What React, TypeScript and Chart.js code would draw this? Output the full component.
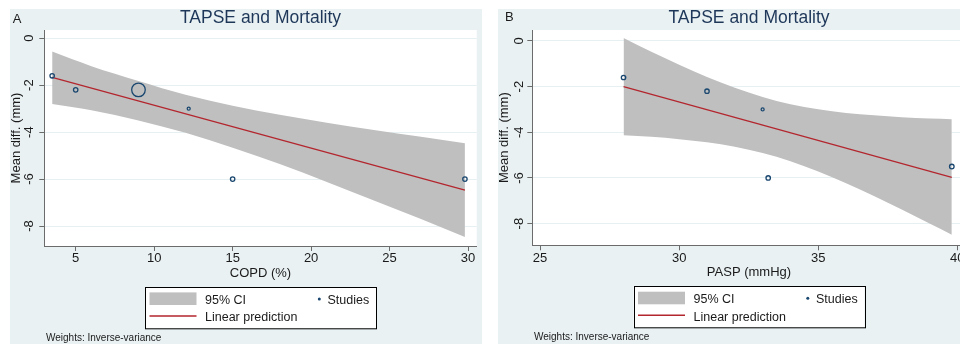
import React, { useEffect, useRef } from 'react';
import { Chart, registerables } from 'chart.js';
Chart.register(...registerables);

// ---------- Panel A: COPD (%) ----------
const copdStudyX = [3.5, 5, 9, 12.2, 15, 29.8];
const copdStudyY = [-1.6, -2.2, -2.2, -3.0, -6.0, -6.0];
const copdStudySize = [2.2, 2.2, 6.8, 1.5, 2.2, 2.2];
const copdFitX = [3.5, 29.8];
const copdFitY = [-1.67, -6.47];
const copdBandX = [3.5, 6, 9, 12, 15, 18, 21, 24, 27, 29.8];
const copdBandUpper = [-0.57, -1.19, -1.82, -2.41, -2.88, -3.26, -3.6, -3.91, -4.2, -4.47];
const copdBandLower = [-2.8, -3.07, -3.5, -4.03, -4.66, -5.36, -6.12, -6.91, -7.7, -8.47];
const copdXTicks = [5, 10, 15, 20, 25, 30];

// ---------- Panel B: PASP (mmHg) ----------
const paspStudyX = [28, 31, 33, 33.2, 39.8];
const paspStudyY = [-1.6, -2.2, -3.0, -6.0, -5.5];
const paspStudySize = [2.2, 2.2, 1.5, 2.2, 2.3];
const paspFitX = [28, 39.8];
const paspFitY = [-2.0, -5.97];
const paspBandX = [28, 29, 30, 31, 32, 33, 34, 35, 36, 37, 38, 39, 39.8];
const paspBandUpper = [0.13, -0.47, -1.04, -1.58, -2.05, -2.45, -2.77, -2.99, -3.15, -3.25, -3.34, -3.4, -3.43];
const paspBandLower = [-4.13, -4.2, -4.3, -4.44, -4.63, -4.91, -5.27, -5.72, -6.23, -6.79, -7.38, -8.0, -8.49];
const paspXTicks = [25, 30, 35, 40];

const yTicks = [0, -2, -4, -6, -8];

const chartTitle = 'TAPSE and Mortality';
const yTitle = 'Mean diff. (mm)';
const legendCI = '95% CI';
const legendFit = 'Linear prediction';
const legendStudies = 'Studies';
const noteText = 'Weights: Inverse-variance';

const FONT = '"Liberation Sans", Arial, Helvetica, sans-serif';
const BG = '#e9f1f3';
const GRID = '#e6eff1';
const AXIS = '#6b6b6b';
const BAND = '#bfbfbf';
const RED = '#b3262e';
const NAVY = '#1a476f';
const TITLE = '#1e3759';
const TEXT = '#1a1a1a';

type PanelCfg = {
  letter: string;
  xTitle: string;
  studyX: number[]; studyY: number[]; studySize: number[];
  fitX: number[]; fitY: number[];
  bandX: number[]; bandUpper: number[]; bandLower: number[];
  xTicks: number[];
  xMin: number; xMax: number; yMin: number; yMax: number;
  width: number; left: number;
  axisH: number;
  letterX: number; letterBase: number;
  yTickOff: number;
};

const panels: PanelCfg[] = [
  {
    letter: 'A', xTitle: 'COPD (%)',
    studyX: copdStudyX, studyY: copdStudyY, studySize: copdStudySize,
    fitX: copdFitX, fitY: copdFitY,
    bandX: copdBandX, bandUpper: copdBandUpper, bandLower: copdBandLower,
    xTicks: copdXTicks,
    xMin: 3.0, xMax: 30.55, yMin: -8.85, yMax: 0.35,
    width: 472, left: 10, axisH: 98,
    letterX: 2.7, letterBase: 14,
    yTickOff: 11,
  },
  {
    letter: 'B', xTitle: 'PASP (mmHg)',
    studyX: paspStudyX, studyY: paspStudyY, studySize: paspStudySize,
    fitX: paspFitX, fitY: paspFitY,
    bandX: paspBandX, bandUpper: paspBandUpper, bandLower: paspBandLower,
    xTicks: paspXTicks,
    xMin: 24.72, xMax: 40.3, yMin: -8.95, yMax: 0.48,
    width: 473, left: 498, axisH: 98.7,
    letterX: 7, letterBase: 12,
    yTickOff: 9,
  },
];

function decorPlugin(p: PanelCfg) {
  return {
    id: 'decor' + p.letter,
    beforeDraw(chart: any) {
      const { ctx, chartArea: a, width, height } = chart;
      ctx.save();
      ctx.fillStyle = BG;
      ctx.fillRect(0, 0, width, height);
      ctx.fillStyle = '#ffffff';
      ctx.fillRect(a.left, a.top, a.right - a.left, a.bottom - a.top);
      ctx.restore();
    },
    afterDraw(chart: any) {
      const { ctx, chartArea: a } = chart;
      const ys = chart.scales.y;
      const cx = (a.left + a.right) / 2;
      ctx.save();
      // panel letter
      ctx.fillStyle = TEXT;
      ctx.font = `13px ${FONT}`;
      ctx.textAlign = 'left';
      ctx.textBaseline = 'alphabetic';
      ctx.fillText(p.letter, p.letterX, p.letterBase);
      // title
      ctx.fillStyle = TITLE;
      ctx.font = `17.5px ${FONT}`;
      ctx.textAlign = 'center';
      ctx.fillText(chartTitle, cx, 13.7);
      // y tick labels (rotated)
      ctx.fillStyle = TEXT;
      ctx.font = `13px ${FONT}`;
      yTicks.forEach((v) => {
        const py = ys.getPixelForValue(v);
        ctx.save();
        ctx.translate(a.left - p.yTickOff, py);
        ctx.rotate(-Math.PI / 2);
        ctx.textAlign = 'center';
        ctx.textBaseline = 'alphabetic';
        ctx.fillText(String(v), 0, 0);
        ctx.restore();
      });
      // y title
      ctx.save();
      ctx.translate(a.left - 24.3, (a.top + a.bottom) / 2);
      ctx.rotate(-Math.PI / 2);
      ctx.textAlign = 'center';
      ctx.fillText(yTitle, 0, 0);
      ctx.restore();
      // x title
      ctx.textAlign = 'center';
      ctx.fillText(p.xTitle, cx, a.bottom + 31);
      // legend
      const bw = 231, bh = 41.3;
      const bx = cx - bw / 2, by = a.bottom + 41;
      ctx.fillStyle = '#ffffff';
      ctx.fillRect(bx, by, bw, bh);
      ctx.strokeStyle = '#000000';
      ctx.lineWidth = 1;
      ctx.strokeRect(Math.round(bx) + 0.5, Math.round(by) + 0.5, bw, bh);
      ctx.fillStyle = BAND;
      ctx.fillRect(bx + 4.5, by + 5.4, 47, 12.6);
      ctx.strokeStyle = RED;
      ctx.lineWidth = 1.4;
      ctx.beginPath();
      ctx.moveTo(bx + 4.5, by + 29);
      ctx.lineTo(bx + 51.5, by + 29);
      ctx.stroke();
      ctx.fillStyle = NAVY;
      ctx.beginPath();
      ctx.arc(bx + 174.3, by + 12, 1.5, 0, Math.PI * 2);
      ctx.fill();
      ctx.fillStyle = TEXT;
      ctx.font = `12.5px ${FONT}`;
      ctx.textAlign = 'left';
      ctx.fillText(legendCI, bx + 60, by + 17);
      ctx.fillText(legendStudies, bx + 182.5, by + 17);
      ctx.fillText(legendFit, bx + 60, by + 34.4);
      // note
      ctx.font = `10px ${FONT}`;
      ctx.fillText(noteText, a.left + 1.7, a.bottom + 95);
      ctx.restore();
    },
  };
}

function Panel({ p }: { p: PanelCfg }) {
  const ref = useRef<HTMLCanvasElement | null>(null);
  useEffect(() => {
    if (!ref.current) return;
    const chart = new Chart(ref.current, {
      type: 'line',
      data: {
        datasets: [
          {
            label: 'Studies',
            data: p.studyX.map((x, i) => ({ x, y: p.studyY[i] })),
            showLine: false,
            pointRadius: p.studySize,
            pointBorderWidth: 1.3,
            pointBorderColor: NAVY,
            pointBackgroundColor: 'rgba(0,0,0,0)',
            borderColor: NAVY,
            backgroundColor: 'rgba(0,0,0,0)',
            order: 0,
          } as any,
          {
            label: 'Linear prediction',
            data: p.fitX.map((x, i) => ({ x, y: p.fitY[i] })),
            borderColor: RED,
            borderWidth: 1.3,
            pointRadius: 0,
            fill: false,
            order: 1,
          },
          {
            label: 'CI upper',
            data: p.bandX.map((x, i) => ({ x, y: p.bandUpper[i] })),
            borderColor: 'rgba(0,0,0,0)',
            borderWidth: 0,
            pointRadius: 0,
            backgroundColor: BAND,
            fill: '+1',
            cubicInterpolationMode: 'monotone',
            order: 2,
          },
          {
            label: 'CI lower',
            data: p.bandX.map((x, i) => ({ x, y: p.bandLower[i] })),
            borderColor: 'rgba(0,0,0,0)',
            borderWidth: 0,
            pointRadius: 0,
            fill: false,
            cubicInterpolationMode: 'monotone',
            order: 3,
          },
        ],
      },
      options: {
        animation: false,
        responsive: false,
        maintainAspectRatio: false,
        devicePixelRatio: 1,
        events: [],
        layout: { padding: { top: 21, left: 0, right: 0, bottom: 0 } },
        plugins: {
          legend: { display: false },
          tooltip: { enabled: false },
          title: { display: false },
        },
        scales: {
          x: {
            type: 'linear',
            min: p.xMin,
            max: p.xMax,
            afterBuildTicks: (s: any) => { s.ticks = p.xTicks.map((v) => ({ value: v })); },
            afterFit: (s: any) => { s.height = p.axisH; },
            grid: { display: true, drawOnChartArea: false, drawTicks: true, tickLength: 5, tickColor: AXIS },
            border: { display: true, color: AXIS, width: 1 },
            ticks: {
              autoSkip: false, maxRotation: 0, minRotation: 0, padding: 0,
              color: TEXT, font: { family: FONT, size: 13 },
            },
          },
          y: {
            type: 'linear',
            min: p.yMin,
            max: p.yMax,
            afterBuildTicks: (s: any) => { s.ticks = yTicks.map((v) => ({ value: v })); },
            afterFit: (s: any) => { s.width = 34.3; },
            grid: { display: true, color: GRID, lineWidth: 1, drawTicks: true, tickLength: 5, tickColor: AXIS },
            border: { display: true, color: AXIS, width: 1 },
            ticks: { display: false },
          },
        },
      } as any,
      plugins: [decorPlugin(p)],
    });
    return () => chart.destroy();
  }, [p]);
  return (
    <canvas
      ref={ref}
      width={p.width}
      height={335}
      style={{ position: 'absolute', left: p.left, top: 9, width: p.width, height: 335 }}
    />
  );
}

export default function App() {
  return (
    <div style={{ position: 'fixed', left: 0, top: 0, width: 960, height: 345, overflow: 'hidden', background: '#ffffff' }}>
      {panels.map((p) => (
        <Panel key={p.letter} p={p} />
      ))}
    </div>
  );
}
